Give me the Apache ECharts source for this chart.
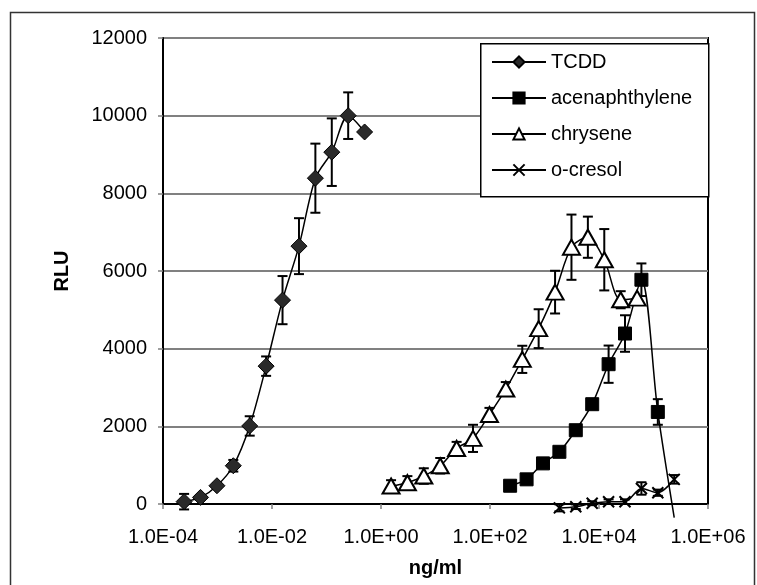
<!DOCTYPE html>
<html>
<head>
<meta charset="utf-8">
<script src="https://cdn.jsdelivr.net/npm/echarts@6/dist/echarts.min.js"></script>
<style>
  html, body { margin: 0; padding: 0; background: #fff; }
  #main { width: 757px; height: 585px; }
</style>
</head>
<body>
<div id="main"></div>
<script>
// ng/ml concentrations and RLU readings
var tcddX = [0.000244, 0.000488, 0.000977, 0.00195, 0.0039, 0.0078, 0.0156, 0.03125, 0.0625, 0.125, 0.25, 0.5];
var tcddY = [60, 170, 470, 985, 2010, 3550, 5250, 6640, 8390, 9060, 10000, 9580];
var tcddErr = [200, 60, 60, 150, 250, 250, 620, 720, 890, 870, 600, 0];

var acenX = [234, 469, 938, 1875, 3750, 7500, 15000, 30000, 60000, 120000, 240000];
var acenY = [470, 635, 1046, 1344, 1900, 2570, 3600, 4390, 5775, 2370, -350];
var acenErr = [0, 0, 0, 0, 80, 100, 480, 470, 420, 330, 0];

var chryX = [1.53, 3.05, 6.1, 12.2, 24.4, 48.8, 97.7, 195, 391, 781, 1563, 3125, 6250, 12500, 25000, 50000];
var chryY = [463, 548, 720, 985, 1430, 1690, 2305, 2960, 3725, 4515, 5456, 6613, 6870, 6290, 5260, 5300];
var chryErr = [150, 170, 200, 200, 170, 350, 170, 180, 350, 500, 550, 840, 530, 790, 220, 0];

var cresX = [1875, 3750, 7500, 15000, 30000, 60000, 120000, 240000];
var cresY = [-100, -70, 20, 60, 60, 400, 290, 635];
var cresErr = [90, 60, 50, 60, 60, 160, 80, 110];

var xTicks = [1e-4, 1e-2, 1, 1e2, 1e4, 1e6];
var yTicks = [0, 2000, 4000, 6000, 8000, 10000, 12000];

var myChart = echarts.init(document.getElementById('main'));

function pts(xs, ys) {
  return xs.map(function (x, i) { return [x, ys[i]]; });
}
function errs(xs, ys, es) {
  var out = [];
  xs.forEach(function (x, i) {
    if (es[i] > 0) out.push([x, ys[i] - es[i], ys[i] + es[i]]);
  });
  return out;
}
function sci(v) {
  var e = Math.round(Math.log10(v));
  var a = Math.abs(e);
  return '1.0E' + (e < 0 ? '-' : '+') + (a < 10 ? '0' + a : a);
}
function errRender(params, api) {
  var x = api.value(0);
  var top = api.coord([x, api.value(2)]);
  var bot = api.coord([x, api.value(1)]);
  var hw = 5;
  var st = { stroke: '#000', lineWidth: 2 };
  return {
    type: 'group',
    children: [
      { type: 'line', shape: { x1: top[0], y1: top[1], x2: bot[0], y2: bot[1] }, style: st },
      { type: 'line', shape: { x1: top[0] - hw, y1: top[1], x2: top[0] + hw, y2: top[1] }, style: st },
      { type: 'line', shape: { x1: bot[0] - hw, y1: bot[1], x2: bot[0] + hw, y2: bot[1] }, style: st }
    ]
  };
}
function errSeries(data) {
  return {
    type: 'custom',
    renderItem: errRender,
    data: data,
    encode: { x: 0, y: [1, 2] },
    clip: false,
    silent: true,
    z: 1
  };
}

var lineStyle = { color: '#000', width: 1.5 };
var acenData = pts(acenX, acenY);
acenData[acenData.length - 1] = { value: acenData[acenData.length - 1], symbol: 'none' };
var xMark = 'path://M0,0L10,10M10,0L0,10';

myChart.setOption({
  animation: false,
  textStyle: { fontFamily: 'Liberation Sans, Arial, sans-serif' },
  grid: {
    left: 163, right: 49, top: 38, bottom: 81,
    show: true, borderColor: '#000', borderWidth: 2, backgroundColor: 'transparent'
  },
  graphic: [
    {
      type: 'rect', left: 8, top: 10, z: 0,
      shape: { width: 744, height: 590 },
      style: { fill: 'none', stroke: '#333', lineWidth: 1.5 }
    },
    {
      type: 'rect', left: 480, top: 43, z: 5,
      shape: { width: 228, height: 153 },
      style: { fill: '#fff', stroke: '#000', lineWidth: 1.5 }
    }
  ],
  legend: {
    orient: 'vertical',
    left: 491, top: 52,
    padding: 0,
    z: 6,
    itemWidth: 54, itemHeight: 14, itemGap: 16,
    textStyle: { fontSize: 20, lineHeight: 20, color: '#000' },
    data: ['TCDD', 'acenaphthylene', 'chrysene', 'o-cresol']
  },
  xAxis: {
    type: 'log',
    logBase: 10,
    min: xTicks[0],
    max: xTicks[xTicks.length - 1],
    name: 'ng/ml',
    nameLocation: 'middle',
    nameGap: 54,
    nameTextStyle: { fontSize: 20, fontWeight: 'bold', color: '#000' },
    axisLine: { lineStyle: { color: '#000', width: 2 } },
    axisTick: { show: true, length: 5, customValues: xTicks, lineStyle: { color: '#808080', width: 1.5 } },
    axisLabel: { fontSize: 20, color: '#000', margin: 23, customValues: xTicks, formatter: sci },
    splitLine: { show: false },
    minorTick: { show: false }
  },
  yAxis: {
    type: 'value',
    min: yTicks[0],
    max: yTicks[yTicks.length - 1],
    interval: 2000,
    name: 'RLU',
    nameLocation: 'middle',
    nameGap: 91,
    nameTextStyle: { fontSize: 20, fontWeight: 'bold', color: '#000' },
    axisLine: { show: true, lineStyle: { color: '#000', width: 2 } },
    axisTick: { show: true, length: 5, lineStyle: { color: '#808080', width: 1.5 } },
    axisLabel: { fontSize: 20, color: '#000', margin: 16, formatter: function (v) { return String(v); } },
    splitLine: { lineStyle: { color: '#808080', width: 2 } }
  },
  series: [
    errSeries(errs(tcddX, tcddY, tcddErr)),
    errSeries(errs(acenX, acenY, acenErr)),
    errSeries(errs(chryX, chryY, chryErr)),
    errSeries(errs(cresX, cresY, cresErr)),
    {
      name: 'TCDD', type: 'line', data: pts(tcddX, tcddY), smooth: 0.3, z: 3,
      symbol: 'diamond', symbolSize: [16, 16],
      lineStyle: lineStyle,
      itemStyle: { color: '#2a2a2a', borderColor: '#000', borderWidth: 1 }
    },
    {
      name: 'acenaphthylene', type: 'line', data: acenData, smooth: 0.3, z: 3, clip: false,
      symbol: 'rect', symbolSize: 13,
      lineStyle: lineStyle,
      itemStyle: { color: '#000', borderColor: '#000', borderWidth: 1 }
    },
    {
      name: 'chrysene', type: 'line', data: pts(chryX, chryY), smooth: 0.3, z: 3,
      symbol: 'triangle', symbolSize: [17, 15],
      lineStyle: lineStyle,
      itemStyle: { color: '#fff', borderColor: '#000', borderWidth: 2 }
    },
    {
      name: 'o-cresol', type: 'line', data: pts(cresX, cresY), smooth: 0.3, z: 3, clip: false,
      symbol: xMark, symbolSize: 11,
      lineStyle: lineStyle,
      itemStyle: { color: '#000', borderColor: '#000', borderWidth: 2 }
    }
  ]
});
</script>
</body>
</html>
